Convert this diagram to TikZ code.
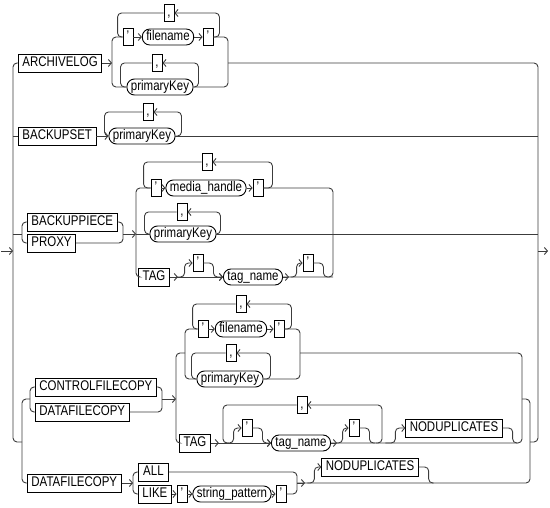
\documentclass[tikz,border=0pt]{standalone}
\usepackage{fontspec}
\setmainfont{Liberation Sans}[FakeStretch=0.82]
\usetikzlibrary{arrows.meta}

\definecolor{railgray}{HTML}{3C3C3C}

\tikzset{
  kw/.style={draw=black, fill=white, line width=0.9pt, inner xsep=4pt, inner ysep=0pt,
    minimum height=18pt, text height=10pt, text depth=3pt,
    font=\fontsize{14}{14}\selectfont},
  nt/.style={kw, rounded corners=7.5pt, minimum height=16pt, inner xsep=4pt},
  qt/.style={kw, inner xsep=0pt, minimum width=10pt, minimum height=17pt},
  rail/.style={draw=railgray, line width=0.9pt, rounded corners=4pt},
  into/.style={-{Straight Barb[length=3pt,width=7pt]}},
}

\begin{document}
\begin{tikzpicture}[x=1pt,y=-1pt]
\useasboundingbox (0,0) rectangle (550,508);
% rail junctions
\coordinate (Lr) at (13,251);
\coordinate (Rr) at (538,251);
\coordinate (al) at (112,63);
\coordinate (ar) at (228,63);
\coordinate (g2) at (22,234);
\coordinate (g2r) at (123,234);
\coordinate (yl) at (136,234);
\coordinate (yr) at (333,234);
\coordinate (s2l) at (22,442);
\coordinate (s2r) at (530,442);
\coordinate (g1) at (30,399);
\coordinate (g1r) at (162,399);
\coordinate (xl) at (176,399);
\coordinate (xr) at (522,399);
\coordinate (x1l) at (185,353);
\coordinate (x1r) at (300,353);
\coordinate (c8l) at (223,443);
\coordinate (c8r) at (382,443);
\coordinate (alL) at (133,483);
\coordinate (alr) at (297,483);

% ARCHIVELOG
\node[kw, anchor=west] (archivelog) at (18,63) {ARCHIVELOG};
\node[qt] (q1) at (128,37) {'};
\node[nt] (fn1) at (168,37) {filename};
\node[qt] (q2) at (208,37) {'};
\node[qt] (c1) at (169,13) {,};
\node[nt] (pk1) at (160,87) {primaryKey};
\node[qt] (c2) at (157,63) {,};

% BACKUPSET
\node[kw, anchor=west] (backupset) at (18,136) {BACKUPSET};
\node[nt] (pk2) at (142,136) {primaryKey};
\node[qt] (c3) at (148,112) {,};

% BACKUPPIECE / PROXY
\node[kw, anchor=west] (backuppiece) at (27,222) {BACKUPPIECE};
\node[kw, anchor=west] (proxy) at (27,243) {PROXY};
\node[qt] (q3) at (156,188) {'};
\node[nt] (mh) at (206,188) {media\_handle};
\node[qt] (q4) at (258,188) {'};
\node[qt] (c4) at (207,162) {,};
\node[nt] (pk3) at (183,234) {primaryKey};
\node[qt] (c5) at (182,212) {,};
\node[kw] (tag1) at (154,277) {TAG};
\node[qt] (q5) at (198,263) {'};
\node[nt] (tn1) at (253,277) {tag\_name};
\node[qt] (q6) at (308,263) {'};

% CONTROLFILECOPY / DATAFILECOPY
\node[kw, anchor=west] (cfc) at (35,387) {CONTROLFILECOPY};
\node[kw, anchor=west] (dfc1) at (35,412) {DATAFILECOPY};
\node[qt] (q7) at (203,329) {'};
\node[nt] (fn2) at (241,329) {filename};
\node[qt] (q8) at (279,329) {'};
\node[qt] (c6) at (241,304) {,};
\node[nt] (pk4) at (230,379) {primaryKey};
\node[qt] (c7) at (231,353) {,};
\node[kw] (tag2) at (195,443) {TAG};
\node[qt] (q9) at (247,428) {'};
\node[nt] (tn2) at (301,443) {tag\_name};
\node[qt] (q10) at (354,428) {'};
\node[qt] (c8) at (302,405) {,};
\node[kw] (nd1) at (454,428) {NODUPLICATES};

% DATAFILECOPY ALL / LIKE
\node[kw, anchor=west] (dfc2) at (27,483) {DATAFILECOPY};
\node[kw, anchor=west, minimum width=30pt] (all) at (138,472) {ALL};
\node[kw, anchor=west, minimum width=30pt] (like) at (138,494) {LIKE};
\node[qt] (q11) at (182,494) {'};
\node[nt] (sp) at (232,494) {string\_pattern};
\node[qt] (q12) at (281,494) {'};
\node[kw] (nd2) at (370,467) {NODUPLICATES};

% main rails
\draw[rail,into] ([xshift=-12pt]Lr) -- (Lr);
\draw[rail] (archivelog.west) -| (Lr |- s2l) -- (s2l);
\draw[rail] (ar) -| (Rr |- s2r) -- (s2r);
\draw[rail,into] (Rr) -- ++(10,0);

% ARCHIVELOG branch
\draw[rail,into] (archivelog) -- (al);
\draw[rail] (q1.west) -| (al |- pk1.west) -- (pk1.west);
\draw[rail] (q2.east) -| (ar |- pk1.east) -- (pk1.east);
\draw[rail,into] (q1) -- (fn1);
\draw[rail,into] (fn1) -- (q2);
\draw[rail,into] (q2.east) -- ++(6,0) |- (c1.east);
\draw[rail] (c1.west) -| ([xshift=-5pt]q1.west) -- (q1.west);
\draw[rail,into] (pk1.east) -- ++(5,0) |- (c2.east);
\draw[rail] (c2.west) -| ([xshift=-6pt]pk1.west) -- (pk1.west);

% BACKUPSET branch
\draw[rail] (Lr |- backupset.west) -- (backupset.west);
\draw[rail,into] (backupset) -- (pk2);
\draw[rail] (pk2.east) -- (Rr |- pk2.east);
\draw[rail,into] (pk2.east) -- ++(6,0) |- (c3.east);
\draw[rail] (c3.west) -| ([xshift=-4pt]pk2.west) -- (pk2.west);

% BACKUPPIECE branch
\draw[rail] (Lr |- g2) -- (g2);
\draw[rail] (backuppiece.west) -| (g2 |- proxy.west) -- (proxy.west);
\draw[rail] (backuppiece.east) -| (g2r |- proxy.east) -- (proxy.east);
\draw[rail,into] (g2r) -- (yl);
\draw[rail] (q3.west) -| (yl |- tag1.west) -- (tag1.west);
\draw[rail] (q4.east) -| (yr |- tn1.east) -- (tn1.east);
\draw[rail] (yl) -- (pk3.west);
\draw[rail] (pk3.east) -- (Rr |- pk3.east);
\draw[rail,into] (q3) -- (mh);
\draw[rail,into] (mh) -- (q4);
\draw[rail,into] (q4.east) -- ++(9,0) |- (c4.east);
\draw[rail] (c4.west) -| ([xshift=-7pt]q3.west) -- (q3.west);
\draw[rail,into] (pk3.east) -- ++(4,0) |- (c5.east);
\draw[rail] (c5.west) -| ([xshift=-5pt]pk3.west) -- (pk3.west);
\draw[rail,into] (tag1.east) -- ++(8,0);
\draw[rail,into] (tag1) -- (tn1);
\draw[rail,into] ([xshift=-16pt]q5.west |- tag1.east) -| ([xshift=-8pt]q5.west) -- (q5.west);
\draw[rail,into] (q5.east) -| ([xshift=10pt]q5.east |- tn1.west) -- (tn1.west);
\draw[rail,into] (tn1.east) -- ++(6,0);
\draw[rail,into] ([xshift=-12pt]q6.west |- tn1.east) -| ([xshift=-6pt]q6.west) -- (q6.west);
\draw[rail] (q6.east) -| ([xshift=10pt]q6.east |- tn1.east) -- (yr |- tn1.east);

% CONTROLFILECOPY / DATAFILECOPY branch
\draw[rail] (g1) -| (s2l |- dfc2.west) -- (dfc2.west);
\draw[rail] (cfc.west) -| (g1 |- dfc1.west) -- (dfc1.west);
\draw[rail] (cfc.east) -| (g1r |- dfc1.east) -- (dfc1.east);
\draw[rail,into] (g1r) -- (xl);
\draw[rail] (x1l) -| (xl |- tag2.west) -- (tag2.west);
\draw[rail] (q7.west) -| (x1l |- pk4.west) -- (pk4.west);
\draw[rail] (q8.east) -| (x1r |- pk4.east) -- (pk4.east);
\draw[rail] (x1r) -| (xr |- tn2.east) -- (tn2.east);
\draw[rail] (xr) -| (s2r |- alr) -- (alr);
\draw[rail,into] (q7) -- (fn2);
\draw[rail,into] (fn2) -- (q8);
\draw[rail,into] (q8.east) -- ++(7,0) |- (c6.east);
\draw[rail] (c6.west) -| ([xshift=-5pt]q7.west) -- (q7.west);
\draw[rail,into] (pk4.east) -- ++(7,0) |- (c7.east);
\draw[rail] (c7.west) -| ([xshift=-5pt]pk4.west) -- (pk4.west);
\draw[rail,into] (tag2.east) -- ++(8,0);
\draw[rail,into] (tag2) -- (tn2);
\draw[rail,into] ([xshift=-16pt]q9.west |- tag2.east) -| ([xshift=-8pt]q9.west) -- (q9.west);
\draw[rail,into] (q9.east) -| ([xshift=10pt]q9.east |- tn2.west) -- (tn2.west);
\draw[rail,into] (tn2.east) -- ++(6,0);
\draw[rail,into] ([xshift=-12pt]q10.west |- tn2.east) -| ([xshift=-6pt]q10.west) -- (q10.west);
\draw[rail] (q10.east) -| ([xshift=10pt]q10.east |- tn2.east) -- ++(6,0);
\draw[rail,into] ([xshift=-6pt]c8r) -| (c8r |- c8.east) -- (c8.east);
\draw[rail] (c8.west) -| (c8l) -- ++(6,0);
\draw[rail,into] ([xshift=-20pt]nd1.west |- tn2.east) -| ([xshift=-10pt]nd1.west) -- (nd1.west);
\draw[rail] (nd1.east) -| ([xshift=10pt]nd1.east |- tn2.east) -- ++(5,0);

% DATAFILECOPY ALL / LIKE branch
\draw[rail,into] (dfc2) -- (alL);
\draw[rail] (all.west) -| (alL |- like.west) -- (like.west);
\draw[rail] (all.east) -| (alr |- q12.east) -- (q12.east);
\draw[rail,into] (like) -- (q11);
\draw[rail,into] (q11) -- (sp);
\draw[rail,into] (sp) -- (q12);
\draw[rail,into] (alr) -- ++(8,0);
\draw[rail,into] ([xshift=-14pt]nd2.west |- alr) -| ([xshift=-7pt]nd2.west) -- (nd2.west);
\draw[rail] (nd2.east) -| ([xshift=10pt]nd2.east |- alr) -- ++(5,0);
\end{tikzpicture}
\end{document}
